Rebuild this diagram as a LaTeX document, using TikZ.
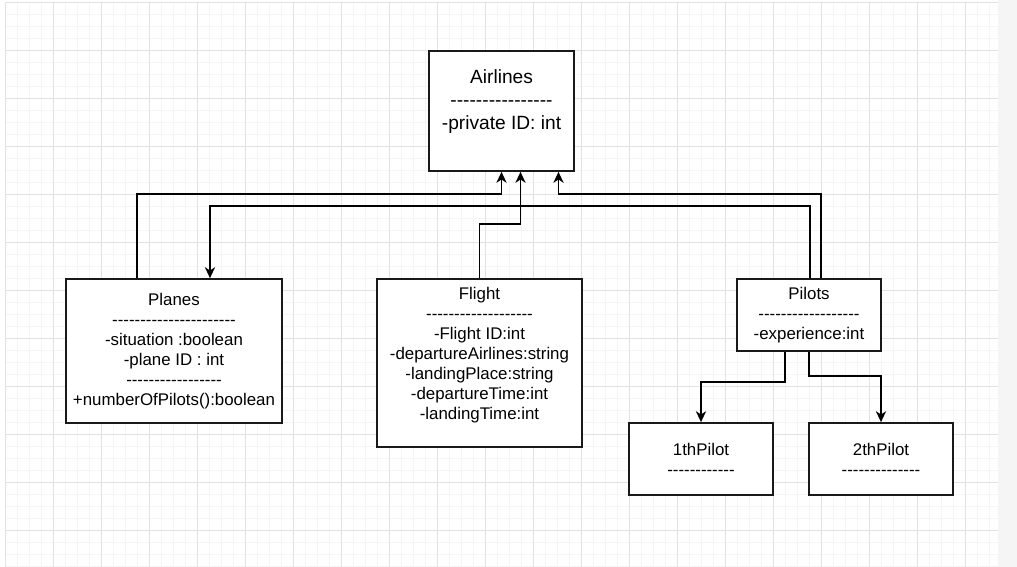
\documentclass[tikz,border=0pt]{standalone}
\usepackage{fontspec}
\newfontfamily\umlfont{Liberation Sans}
\usetikzlibrary{arrows.meta}

\newlength\pxu
\setlength\pxu{0.02cm}
\definecolor{gridminor}{HTML}{F5F5F5}
\definecolor{gridmajor}{HTML}{E2E2E2}
\definecolor{canvasgray}{HTML}{F5F5F5}

\tikzset{
  umlbox/.style={draw=black!90, line width=1pt, fill=white, align=center, inner sep=0pt,
    font=\umlfont\fontsize{9.6}{11.4}\selectfont},
  link/.style={line width=0.75pt, -{Stealth[length=6.2pt,width=5.8pt,inset=1.9pt]}},
}

\begin{document}
\begin{tikzpicture}[x=1\pxu, y=-1\pxu]
  \useasboundingbox (0,0) rectangle (1017,567);

  % canvas grid
  \fill[white] (0,0) rectangle (1017,567);
  \fill[canvasgray] (998,0) rectangle (1017,567);
  \foreach \gx in {5,17,...,998} \draw[gridminor, line width=0.4pt] (\gx,2) -- (\gx,567);
  \foreach \gy in {2,14,...,567} \draw[gridminor, line width=0.4pt] (5,\gy) -- (998,\gy);
  \foreach \gx in {5,53,...,998} \draw[gridmajor, line width=0.5pt] (\gx,2) -- (\gx,567);
  \foreach \gy in {2,50,...,567} \draw[gridmajor, line width=0.5pt] (5,\gy) -- (998,\gy);


  \node[umlbox, minimum width=145\pxu, minimum height=120\pxu,
    font=\umlfont\fontsize{10.9}{13}\selectfont] (airlines) at (501.5,111)
    {Airlines\\----------------\\-private ID: int\\\mbox{}};

  \node[umlbox, minimum width=216\pxu, minimum height=144\pxu] (planes) at (174,351)
    {Planes\\----------------------\\-situation :boolean\\-plane ID : int\\-----------------\\+numberOfPilots():boolean};

  \node[umlbox, minimum width=205\pxu, minimum height=168\pxu] (flight) at (479.5,363)
    {Flight\\-------------------\\-Flight ID:int\\-departureAirlines:string\\-landingPlace:string\\-departureTime:int\\-landingTime:int\\\mbox{}};

  \node[umlbox, minimum width=144\pxu, minimum height=72\pxu] (pilots) at (809,315)
    {Pilots\\------------------\\-experience:int};

  \node[umlbox, minimum width=144\pxu, minimum height=72\pxu] (pilot1) at (701,459)
    {1thPilot\\------------};
  \node[umlbox, minimum width=144\pxu, minimum height=72\pxu] (pilot2) at (881,459)
    {2thPilot\\--------------};


  % links up to Airlines
  \draw[link] ([xshift=-0.74cm]planes.north) -- ++(0,-84) -| (airlines.south);
  \draw[link] (flight.north) -- ++(0,-54) -| ([xshift=0.38cm]airlines.south);
  \draw[link] ([xshift=0.24cm]pilots.north) -- ++(0,-84) -| ([xshift=1.14cm]airlines.south);
  \draw[link] ([xshift=0.02cm]pilots.north) -- ++(0,-72) -| ([xshift=0.72cm]planes.north);

  % pilots down
  \draw[link] ([xshift=-0.48cm]pilots.south) -- ++(0,30) -| (pilot1.north);
  \draw[link] (pilots.south) -- ++(0,24) -| (pilot2.north);

\end{tikzpicture}
\end{document}
